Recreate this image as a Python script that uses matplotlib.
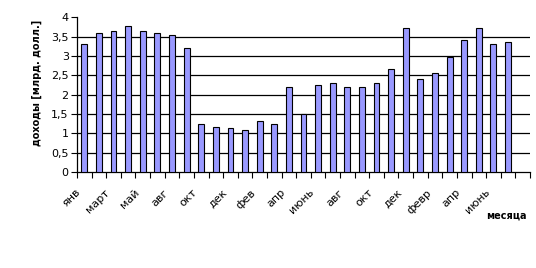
import numpy as np
import matplotlib
matplotlib.use("Agg")
from matplotlib import pyplot as plt
from matplotlib.transforms import ScaledTranslation

# monthly values, one empty slot at the end
values = [3.30, 3.59, 3.64, 3.78, 3.64, 3.59, 3.54, 3.20,
          1.24, 1.16, 1.14, 1.08, 1.32, 1.24,
          2.19, 1.50, 2.25, 2.30, 2.19, 2.19, 2.30, 2.66,
          3.72, 2.40, 2.55, 2.98, 3.41, 3.72, 3.30, 3.35]
n_slots = 31
month_labels = ["янв", "март", "май", "авг", "окт", "дек", "фев", "апр",
                "июнь", "авг", "окт", "дек", "февр", "апр", "июнь"]
y_ticks = [0, 0.5, 1, 1.5, 2, 2.5, 3, 3.5, 4]
y_tick_labels = ["0", "0,5", "1", "1,5", "2", "2,5", "3", "3,5", "4"]

plt.rcParams['font.family'] = ['DejaVu Sans']

fig = plt.figure(figsize=(5.36, 2.68), dpi=100)
ax = fig.add_axes([0.1437, 0.358, 0.845, 0.578])

x = np.arange(len(values))
ax.bar(x, values, width=0.4, color="#9999FF", edgecolor="black", linewidth=0.8, zorder=3)

ax.set_xlim(-0.5, n_slots - 0.5)
ax.set_ylim(0, 4)

for y in y_ticks[1:-1]:
    ax.axhline(y, color="black", linewidth=0.9, zorder=1)

ax.set_yticks(y_ticks)
ax.set_yticklabels(y_tick_labels, fontsize=8)
ax.tick_params(axis="y", length=4, width=0.8, pad=2, color="black")

ax.set_xticks(np.arange(0, len(month_labels) * 2, 2))
ax.set_xticklabels(month_labels, fontsize=8, rotation=45, ha="right",
                   rotation_mode="anchor")
ax.tick_params(axis="x", which="major", length=0, pad=11)
shift = ScaledTranslation(-9 / 100, 0, fig.dpi_scale_trans)
for lbl in ax.get_xticklabels():
    lbl.set_transform(lbl.get_transform() + shift)
ax.set_xticks(np.arange(-0.5, n_slots, 1), minor=True)
ax.tick_params(axis="x", which="minor", length=4, width=0.8)

ax.spines["top"].set_visible(False)
ax.spines["right"].set_visible(False)
ax.spines["left"].set_linewidth(0.9)
ax.spines["bottom"].set_linewidth(0.9)

fig.text(0.069, 0.69, "доходы [млрд. долл.]", rotation=90, fontsize=7,
         fontweight="bold", ha="center", va="center")
fig.text(0.945, 0.195, "месяца", fontsize=7, fontweight="bold",
         ha="center", va="center")

plt.savefig("out.png", dpi=100)
